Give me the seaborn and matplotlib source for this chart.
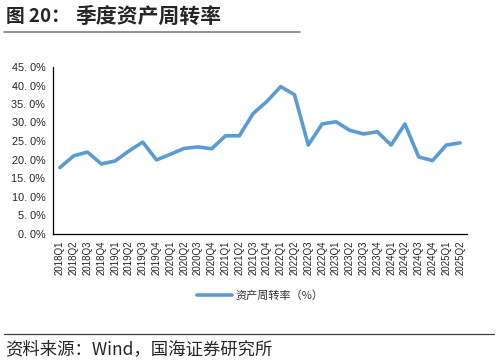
import numpy as np
import pandas as pd
import matplotlib
matplotlib.use('Agg')
import matplotlib.pyplot as plt
import seaborn as sns

# 季度资产周转率 (%)
quarters = [f'{y}Q{q}' for y in range(2018, 2026) for q in range(1, 5)][:30]
turnover = [17.8, 21.0, 22.0, 18.8, 19.6, 22.3, 24.7, 19.9,
            21.4, 23.0, 23.4, 22.9, 26.4, 26.4, 32.4, 35.7,
            39.7, 37.5, 23.9, 29.6, 30.2, 27.9, 26.9, 27.5,
            23.9, 29.6, 20.7, 19.7, 23.9, 24.5]
yticks = [0, 5, 10, 15, 20, 25, 30, 35, 40, 45]

df = pd.DataFrame({'季度': quarters, '资产周转率（%）': turnover})

sns.set_style('white')
plt.rcParams['font.family'] = ['Noto Sans CJK SC', 'DejaVu Sans']

fig = plt.figure(figsize=(4.98, 3.62), dpi=100)
ax = fig.add_axes([53 / 498, 1 - 233.5 / 362, (467 - 53) / 498, (233.5 - 67) / 362])

sns.lineplot(data=df, x='季度', y='资产周转率（%）', ax=ax, color='#5B9BD5',
             linewidth=2.6, label='资产周转率（%）', sort=False)

ax.set_xlim(-0.5, len(quarters) - 0.5)
ax.set_ylim(0, 45)
ax.set_yticks(yticks)
ax.set_yticklabels([f'{v}. 0%' for v in yticks], fontsize=7.8, family=['Liberation Sans'])
ax.set_xticks(range(len(quarters)))
ax.set_xticklabels(quarters, rotation=90, fontsize=7, family=['Liberation Sans'])
ax.set_xticks(np.arange(-0.5, len(quarters), 1), minor=True)
ax.tick_params(axis='x', which='major', length=0, pad=5)
ax.tick_params(axis='x', which='minor', length=3.5, width=0.8, color='black', direction='out')
ax.tick_params(axis='y', length=3.5, width=0.8, color='black', direction='out', pad=2)
ax.set_xlabel('')
ax.set_ylabel('')
for s in ['top', 'right']:
    ax.spines[s].set_visible(False)
for s in ['left', 'bottom']:
    ax.spines[s].set_color('black')
    ax.spines[s].set_linewidth(0.9)

leg = ax.legend(loc='center', bbox_to_anchor=(0.5, -0.375), frameon=False,
                fontsize=8, handlelength=3.2, handletextpad=0.3)
for t in leg.get_texts():
    t.set_color('#333333')

# title and source
fig.text(6 / 498, 1 - 16 / 362, '图 20：', fontsize=13.5, fontweight='bold',
         va='center', ha='left')
fig.text(75 / 498, 1 - 16 / 362, '季度资产周转率', fontsize=15, fontweight='bold',
         va='center', ha='left')
fig.add_artist(plt.Line2D([4 / 498, 300 / 498], [1 - 32 / 362, 1 - 32 / 362],
                          color='#808080', linewidth=1.2))
fig.add_artist(plt.Line2D([4 / 498, 494 / 498], [1 - 334 / 362, 1 - 334 / 362],
                          color='#404040', linewidth=0.9))
fig.text(5 / 498, 1 - 349 / 362, '资料来源：Wind，国海证券研究所', fontsize=12.5,
         va='center', ha='left')

fig.savefig('out.png', dpi=100)
